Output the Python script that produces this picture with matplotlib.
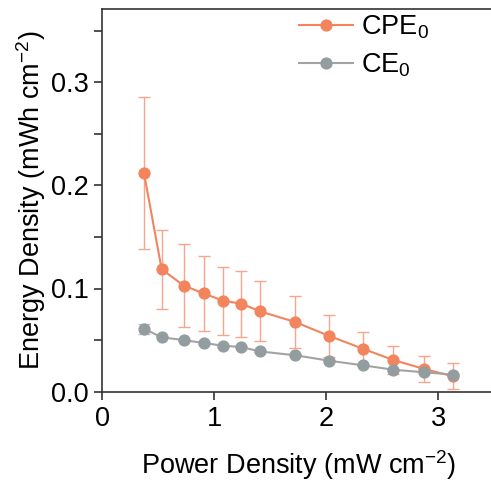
import matplotlib
matplotlib.use("Agg")
import matplotlib.pyplot as plt
import numpy as np

plt.rcParams['font.family'] = ['Liberation Sans', 'DejaVu Sans']
plt.rcParams['mathtext.fontset'] = 'custom'
plt.rcParams['mathtext.rm'] = 'Liberation Sans'
plt.rcParams['mathtext.it'] = 'Liberation Sans'

power = [0.372, 0.530, 0.729, 0.905, 1.075, 1.241, 1.408, 1.723, 2.027, 2.325, 2.598, 2.875, 3.134]
cpe = [0.212, 0.1186, 0.1027, 0.0953, 0.0882, 0.0853, 0.0779, 0.0675, 0.054, 0.0417, 0.0307, 0.022, 0.0149]
cpe_err = [0.074, 0.038, 0.040, 0.036, 0.033, 0.032, 0.029, 0.025, 0.020, 0.016, 0.014, 0.013, 0.0126]
ce = [0.061, 0.0527, 0.050, 0.0472, 0.0446, 0.0433, 0.039, 0.0353, 0.030, 0.0256, 0.0213, 0.0188, 0.0165]
ce_err = [0.005, 0.001, 0.001, 0.001, 0.001, 0.001, 0.001, 0.001, 0.001, 0.001, 0.001, 0.001, 0.001]

W, H = 491, 486
fig = plt.figure(figsize=(W/100, H/100), dpi=100)
left, bottom, top = 102.3/W, (H-391.7)/H, (H-9)/H
xmax = 3.5
right = (102.3 + xmax*112)/W
ax = fig.add_axes([left, bottom, right-left, top-bottom])

orange = '#F2845E'
orange_err = '#F7A68C'
grey_m = '#939D9F'
grey_l = '#A3A3A3'

fs = 19.5

ax.errorbar(power, cpe, yerr=cpe_err, fmt='none', ecolor=orange_err, elinewidth=1.0,
            capsize=4, capthick=1.0, zorder=2)
ax.plot(power, cpe, '-', color=orange, lw=1.5, marker='o', ms=7.8,
        mfc=orange, mec=orange, label='CPE$_0$', zorder=3)
ax.errorbar(power, ce, yerr=ce_err, fmt='none', ecolor='#C0C0C0', elinewidth=1.0,
            capsize=4, capthick=1.0, zorder=4)
ax.plot(power, ce, '-', color=grey_l, lw=1.5, marker='o', ms=7.8,
        mfc=grey_m, mec=grey_m, label='CE$_0$', zorder=5)

ax.set_xlim(0, xmax)
ax.set_ylim(0, (391.7-9)/1032)
ax.set_xticks([0, 1, 2, 3])
ax.set_yticks([0.0, 0.1, 0.2, 0.3])
ax.set_yticks([0.05, 0.15, 0.25, 0.35], minor=True)
ax.set_yticklabels(['0.0', '0.1', '0.2', '0.3'])
ax.tick_params(axis='both', which='both', direction='out', labelsize=fs, width=1.2,
               color='#333333', pad=4)
ax.tick_params(axis='both', which='major', length=6)
ax.tick_params(axis='y', which='minor', length=6)
for s in ax.spines.values():
    s.set_linewidth(1.2)
    s.set_color('#333333')

ax.set_xlabel('Power Density (mW cm$^{-2}$)', fontsize=fs, labelpad=12)
ax.set_ylabel('Energy Density (mWh cm$^{-2}$)', fontsize=fs, labelpad=2)

leg = ax.legend(loc='upper left', bbox_to_anchor=(0.46, 1.03), frameon=False, fontsize=fs,
                handlelength=2.0, handletextpad=0.3, labelspacing=0.38, borderaxespad=0.2)

fig.savefig('out.png', dpi=100)
